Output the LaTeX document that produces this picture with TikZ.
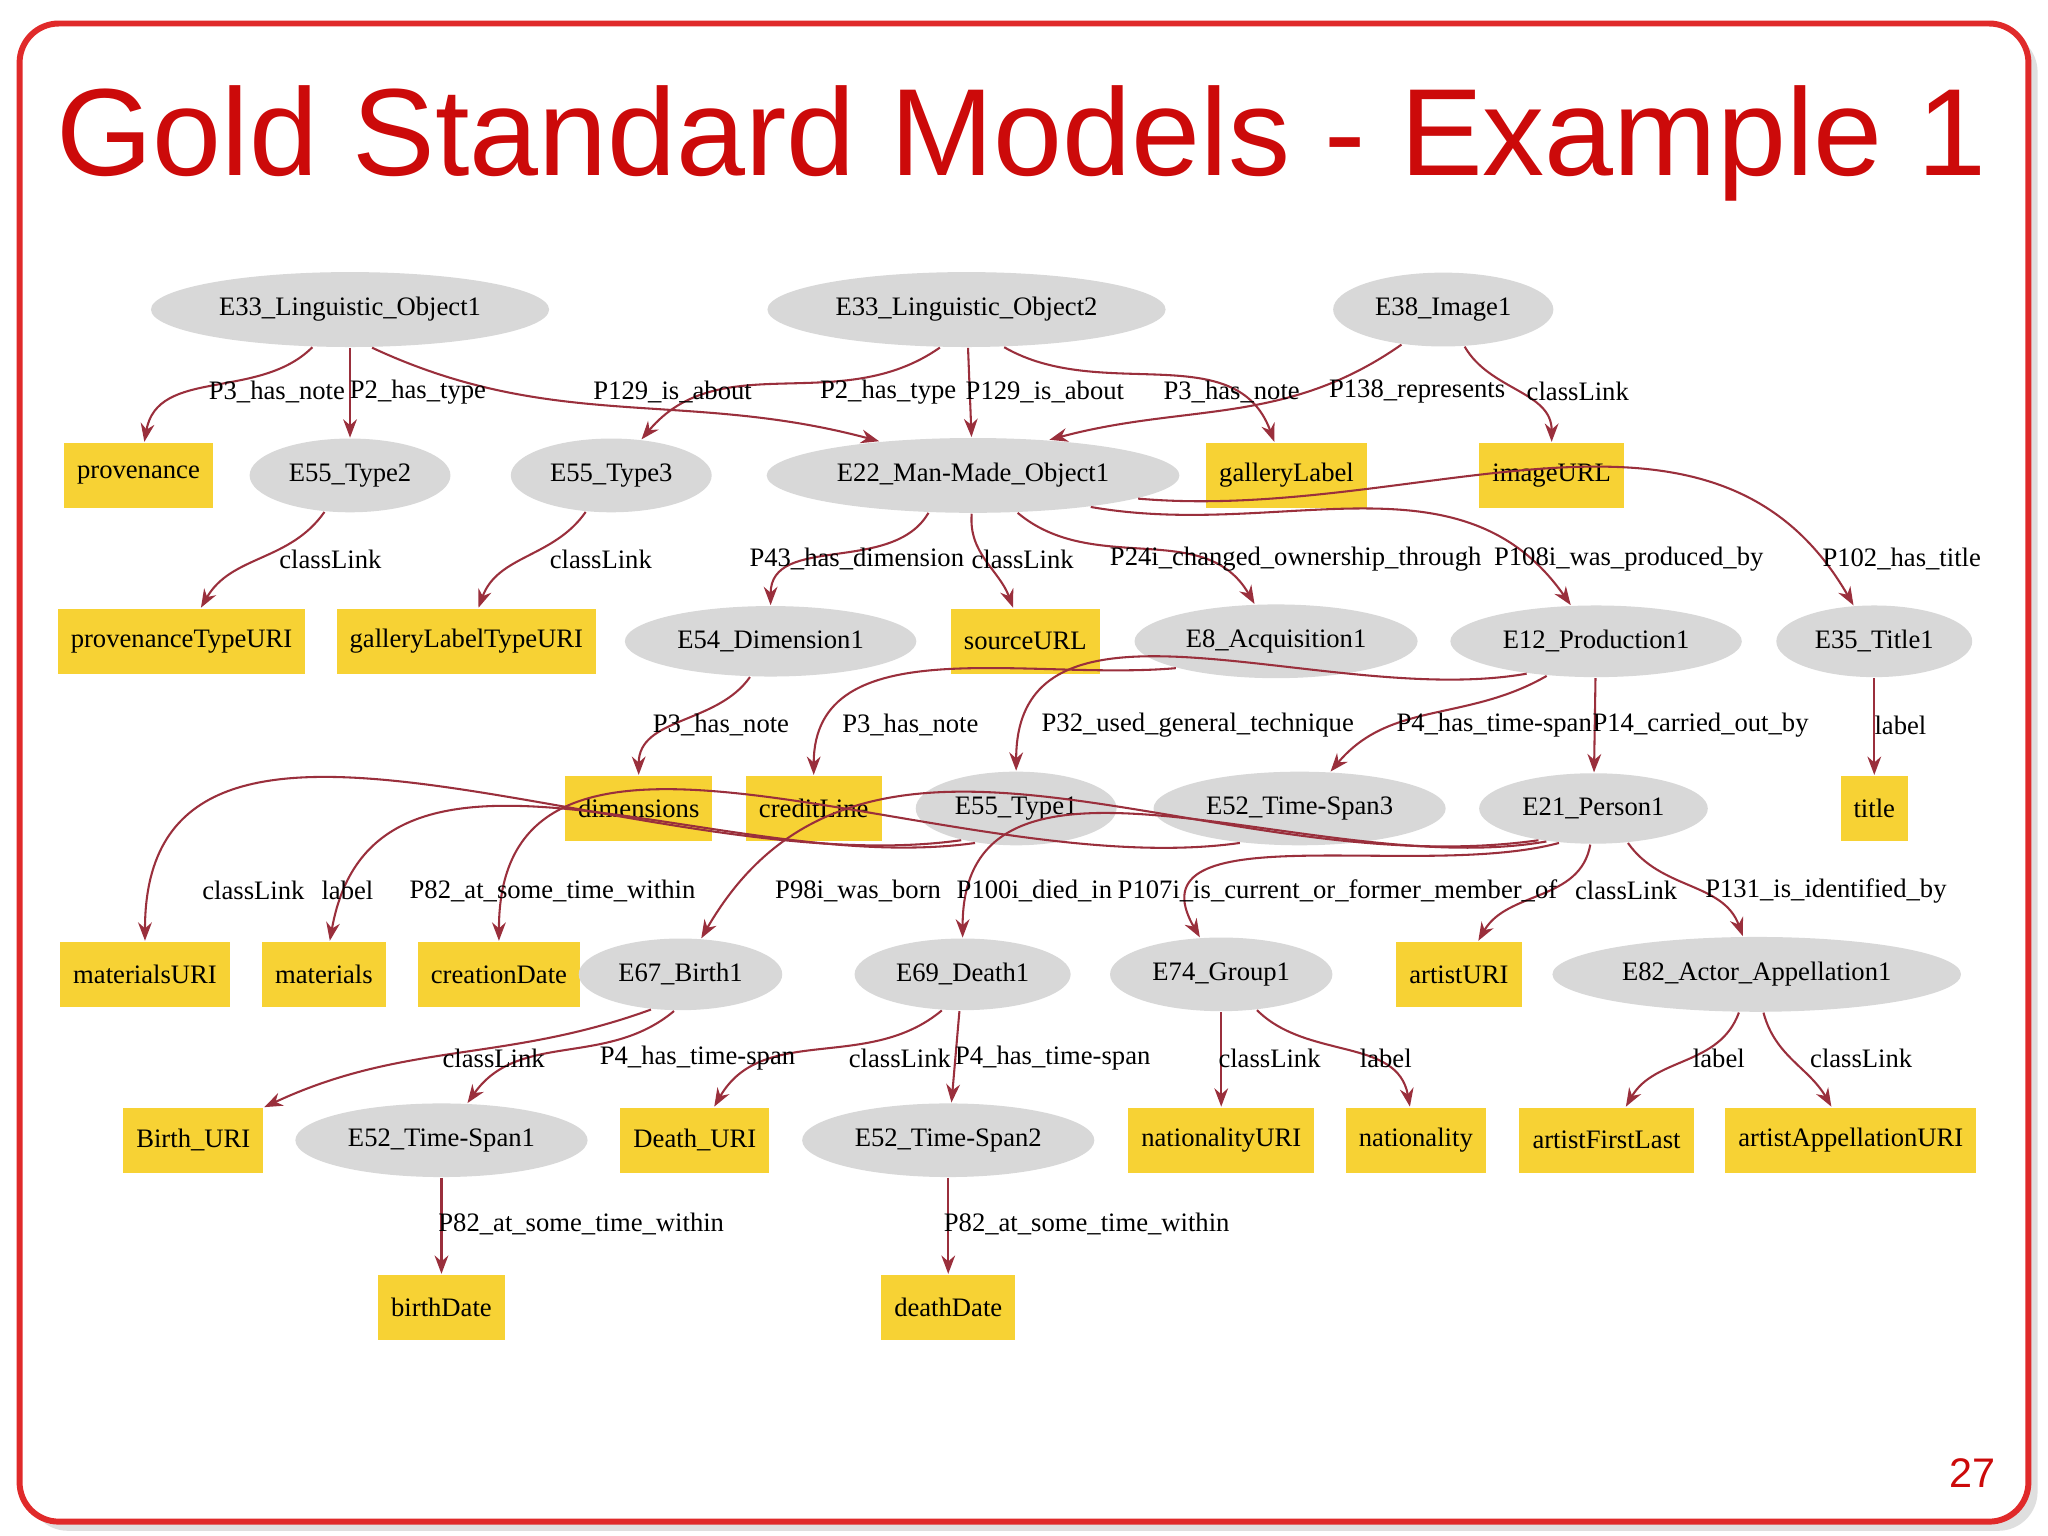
\documentclass[tikz,border=0pt]{standalone}
\usepackage{fontspec}
\setmainfont{Liberation Serif}
\newfontfamily\titlefont{Liberation Sans}
\usetikzlibrary{shapes.geometric,arrows.meta,shadows}
\definecolor{framered}{HTML}{E02A2A}
\definecolor{titlered}{HTML}{CC0A0A}
\definecolor{goldbox}{HTML}{F7D234}
\definecolor{greyell}{HTML}{D8D8D8}
\definecolor{edgered}{HTML}{9A2F3C}
\tikzset{
  ell/.style={ellipse,fill=greyell,inner xsep=0.075cm,inner ysep=0.11cm,font=\fontsize{5.8}{6}\selectfont},
  box/.style={rectangle,fill=goldbox,inner xsep=0.1cm,minimum height=0.5cm,font=\fontsize{5.8}{6}\selectfont},
  lab/.style={font=\fontsize{5.8}{6}\selectfont,inner sep=0.5pt},
  e/.style={draw=edgered,line width=0.45pt,-{Stealth[length=4pt,width=3pt]}}
}
\begin{document}
\begin{tikzpicture}[x=0.01cm,y=-0.01cm]
\useasboundingbox (0,0) rectangle (1568,1176);
\fill[white] (0,0) rectangle (1568,1176);
\draw[framered,line width=1.3pt,rounded corners=0.3cm,drop shadow={opacity=0.25,shadow xshift=2pt,shadow yshift=-2pt}, fill=white] (15,18) rectangle (1553,1165);
\node[text=titlered,font=\titlefont\fontsize{27}{30}\selectfont] (title0) at (782,110) {Gold Standard Models - Example 1};
\node[text=titlered,font=\titlefont\fontsize{9}{10}\selectfont] (pnum) at (1510,1128) {27};
% row1
\node[ell] (L1) at (268,237) {E33\_Linguistic\_Object1};
\node[ell] (L2) at (740,237) {E33\_Linguistic\_Object2};
\node[ell] (I1) at (1105,237) {E38\_Image1};
% row2
\node[box] (prov) at (106,364) {provenance};
\node[ell] (T2) at (268,364) {E55\_Type2};
\node[ell] (T3) at (468,364) {E55\_Type3};
\node[ell] (E22) at (745,364) {E22\_Man-Made\_Object1};
\node[box] (gal) at (985,364) {galleryLabel};
\node[box] (img) at (1188,364) {imageURL};
% row3
\node[box] (ptu) at (139,491) {provenanceTypeURI};
\node[box] (gltu) at (357,491) {galleryLabelTypeURI};
\node[ell] (D1) at (590,491) {E54\_Dimension1};
\node[box] (src) at (785,491) {sourceURL};
\node[ell] (A1) at (977,491) {E8\_Acquisition1};
\node[ell] (P1) at (1222,491) {E12\_Production1};
\node[ell] (Ti1) at (1435,491) {E35\_Title1};
% row4
\node[box] (dim) at (489,619) {dimensions};
\node[box] (cred) at (623,619) {creditLine};
\node[ell] (T1) at (778,619) {E55\_Type1};
\node[ell] (TS3) at (995,619) {E52\_Time-Span3};
\node[ell] (Pe1) at (1220,619) {E21\_Person1};
\node[box] (tit) at (1435,619) {title};
% row5
\node[box] (matu) at (111,746) {materialsURI};
\node[box] (mat) at (248,746) {materials};
\node[box] (cdate) at (382,746) {creationDate};
\node[ell] (B1) at (521,746) {E67\_Birth1};
\node[ell] (De1) at (737,746) {E69\_Death1};
\node[ell] (G1) at (935,746) {E74\_Group1};
\node[box] (auri) at (1117,746) {artistURI};
\node[ell] (AP1) at (1345,746) {E82\_Actor\_Appellation1};
% row6
\node[box] (buri) at (148,873) {Birth\_URI};
\node[ell] (TS1) at (338,873) {E52\_Time-Span1};
\node[box] (duri) at (532,873) {Death\_URI};
\node[ell] (TS2) at (726,873) {E52\_Time-Span2};
\node[box] (nuri) at (935,873) {nationalityURI};
\node[box] (nat) at (1084,873) {nationality};
\node[box] (afl) at (1230,873) {artistFirstLast};
\node[box] (aau) at (1417,873) {artistAppellationURI};
% row7
\node[box] (bd) at (338,1001) {birthDate};
\node[box] (dd) at (726,1001) {deathDate};
% edges
\draw[e] (L1) to[out=-135,in=80] (prov);
\draw[e] (L1) -- (T2);
\draw[e] (L1.-60) to[out=-25,in=165] (E22.160);
\draw[e] (L2.-125) to[out=-145,in=50] (T3);
\draw[e] (L2) -- (E22);
\draw[e] (L2.-45) to[out=-30,in=110] (gal);
\draw[e] (I1.-140) to[out=-145,in=15] (E22.25);
\draw[e] (I1.-60) to[out=-60,in=90] (img);
\draw[e] (T2) to[out=-125,in=60] (ptu);
\draw[e] (T3) to[out=-125,in=70] (gltu);
\draw[e] (E22.-140) to[out=-120,in=90] (D1);
\draw[e] (E22.-92) to[out=-95,in=110] (src);
\draw[e] (E22.-40) to[out=-40,in=120] (A1);
\draw[e] (E22.-15) to[out=-10,in=125] (P1);
\draw[e] (E22.-8) to[out=-5,in=120] (Ti1);
\draw[e] (D1.-120) to[out=-125,in=90] (dim);
\draw[e] (A1.-165) to[out=-175,in=90] (cred);
\draw[e] (P1.-155) to[out=-170,in=90] (T1);
\draw[e] (P1.-145) to[out=-150,in=50] (TS3);
\draw[e] (P1) -- (Pe1);
\draw[e] (Ti1) -- (tit);
\draw[e] (T1.-150) to[out=-172,in=90] (matu);
\draw[e] (T1.-140) to[out=-172,in=80] (mat);
\draw[e] (TS3.-150) to[out=-172,in=90] (cdate);
\draw[e] (Pe1.-150) to[out=-172,in=60] (B1);
\draw[e] (Pe1.-145) to[out=-170,in=90] (De1);
\draw[e] (Pe1.-135) to[out=-165,in=120] (G1);
\draw[e] (Pe1.-95) to[out=-100,in=60] (auri);
\draw[e] (Pe1.-45) to[out=-55,in=110] (AP1);
\draw[e] (B1.-130) to[out=-160,in=25] (buri);
\draw[e] (B1.-100) to[out=-140,in=55] (TS1);
\draw[e] (De1.-120) to[out=-140,in=60] (duri);
\draw[e] (De1) -- (TS2);
\draw[e] (G1) -- (nuri);
\draw[e] (G1.-45) to[out=-45,in=100] (nat);
\draw[e] (AP1.-115) to[out=-110,in=60] (afl);
\draw[e] (AP1.-80) to[out=-75,in=120] (aau);
\draw[e] (TS1) -- (bd);
\draw[e] (TS2) -- (dd);
% labels
\node[lab] (l1) at (212,300) {P3\_has\_note};
\node[lab] (l2) at (320,300) {P2\_has\_type};
\node[lab] (l3) at (515,300) {P129\_is\_about};
\node[lab] (l4) at (680,300) {P2\_has\_type};
\node[lab] (l5) at (800,300) {P129\_is\_about};
\node[lab] (l6) at (943,300) {P3\_has\_note};
\node[lab] (l7) at (1085,300) {P138\_represents};
\node[lab] (l8) at (1208,300) {classLink};
\node[lab] (m1) at (253,428) {classLink};
\node[lab] (m2) at (460,428) {classLink};
\node[lab] (m3) at (656,428) {P43\_has\_dimension};
\node[lab] (m4) at (783,428) {classLink};
\node[lab] (m5) at (992,428) {P24i\_changed\_ownership\_through};
\node[lab] (m6) at (1247,428) {P108i\_was\_produced\_by};
\node[lab] (m7) at (1456,428) {P102\_has\_title};
\node[lab] (n1) at (552,555) {P3\_has\_note};
\node[lab] (n2) at (697,555) {P3\_has\_note};
\node[lab] (n3) at (917,555) {P32\_used\_general\_technique};
\node[lab] (n4) at (1144,555) {P4\_has\_time-span};
\node[lab] (n5) at (1302,555) {P14\_carried\_out\_by};
\node[lab] (n6) at (1455,555) {label};
\node[lab] (o1) at (194,682) {classLink};
\node[lab] (o2) at (266,682) {label};
\node[lab] (o3) at (423,682) {P82\_at\_some\_time\_within};
\node[lab] (o4) at (657,682) {P98i\_was\_born};
\node[lab] (o5) at (792,682) {P100i\_died\_in};
\node[lab] (o6) at (1024,682) {P107i\_is\_current\_or\_former\_member\_of};
\node[lab] (o7) at (1245,682) {classLink};
\node[lab] (o8) at (1398,682) {P131\_is\_identified\_by};
\node[lab] (q1) at (378,810) {classLink};
\node[lab] (q2) at (534,810) {P4\_has\_time-span};
\node[lab] (q3) at (689,810) {classLink};
\node[lab] (q4) at (806,810) {P4\_has\_time-span};
\node[lab] (q5) at (972,810) {classLink};
\node[lab] (q6) at (1061,810) {label};
\node[lab] (q7) at (1316,810) {label};
\node[lab] (q8) at (1425,810) {classLink};
\node[lab] (r1) at (445,937) {P82\_at\_some\_time\_within};
\node[lab] (r2) at (832,937) {P82\_at\_some\_time\_within};
\end{tikzpicture}
\end{document}
